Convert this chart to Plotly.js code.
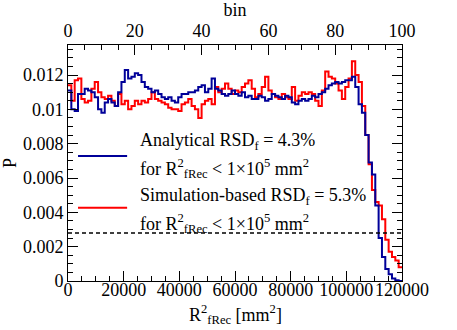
<!DOCTYPE html>
<html>
<head>
<meta charset="utf-8">
<script src="https://cdn.plot.ly/plotly-3.0.1.min.js"></script>
<style>
  html, body { margin: 0; padding: 0; background: #fff; }
  #chart { width: 457px; height: 330px; }
</style>
</head>
<body>
<div id="chart"></div>
<script>
// 100 bins of R^2_fRec, 0 .. 120000 mm^2
const nBins = 100;
const rMax = 120000;
const binTicks = [0, 20, 40, 60, 80, 100];
const cutP = 0.0028;

// bin contents (x 1e-3)
const analytical = [
  11.1, 10.0, 9.9, 10.9, 10.9, 11.2, 11.1, 11.0, 10.7, 10.0,
  9.8, 10.4, 10.6, 10.4, 10.2, 11.0, 11.6, 12.3, 11.8, 11.9,
  12.1, 12.0, 11.6, 11.3, 11.2, 11.0, 11.1, 10.9, 10.7, 10.6,
  10.7, 10.5, 10.4, 10.7, 10.9, 10.9, 11.0, 11.0, 11.1, 11.3,
  11.4, 11.0, 11.2, 11.8, 11.2, 11.1, 10.9, 10.8, 10.9, 11.1,
  10.9, 10.8, 11.0, 10.7, 10.8, 10.6, 10.6, 10.8, 10.7, 10.5,
  10.6, 10.9, 10.8, 10.7, 10.6, 10.8, 10.7, 10.4, 10.3, 10.5,
  10.6, 10.5, 10.6, 10.8, 10.7, 10.9, 11.0, 11.2, 11.4, 11.5,
  11.6, 11.5, 11.6, 11.7, 11.7, 11.9, 11.3, 10.3, 9.8, 8.5,
  6.9, 6.2, 4.4, 2.5, 1.4, 0.7, 0.4, 0.15, 0.05, 0.0
];
const simulation = [
  11.4, 10.5, 11.7, 11.8, 10.6, 10.4, 10.5, 11.2, 11.6, 11.0,
  10.7, 10.6, 10.8, 10.5, 10.2, 10.9, 10.3, 10.5, 10.0, 10.2,
  10.5, 10.3, 10.5, 10.4, 10.6, 11.0, 10.6, 10.5, 10.4, 10.3,
  10.1, 10.0, 10.0, 9.9, 10.3, 10.4, 10.6, 10.2, 10.0, 9.5,
  10.3, 10.5, 10.6, 10.3, 11.3, 11.0, 11.2, 11.5, 11.2, 10.9,
  11.1, 11.0, 11.3, 11.5, 11.7, 11.2, 10.7, 10.9, 11.3, 11.9,
  11.1, 10.9, 10.7, 10.6, 10.9, 10.7, 10.6, 11.3, 10.5, 10.8,
  11.0, 10.9, 11.0, 10.9, 10.5, 10.2, 11.1, 12.2, 11.9, 11.8,
  11.5, 11.1, 10.6, 11.3, 11.8, 12.8, 12.0, 11.6, 10.2, 8.5,
  6.8, 5.3, 4.6, 4.4, 3.6, 2.4, 1.7, 1.4, 1.2, 0.8
];

const FONT = "'Liberation Serif', 'Times New Roman', serif";
const binW = rMax / nBins;

// step outline like a ROOT histogram
function steps(vals) {
  const x = [], y = [];
  vals.forEach((v, i) => { x.push(i * binW); y.push(v * 1e-3); });
  x.push(rMax); y.push(vals[vals.length - 1] * 1e-3);
  return { x, y };
}

const hA = steps(analytical);
const hS = steps(simulation);

const traces = [
  { x: hS.x, y: hS.y, type: 'scatter', mode: 'lines', line: { shape: 'hv', color: '#ff0000', width: 2 }, hoverinfo: 'skip' },
  { x: hA.x, y: hA.y, type: 'scatter', mode: 'lines', line: { shape: 'hv', color: '#000099', width: 2 }, hoverinfo: 'skip' },
  // carries the top "bin" axis
  { x: binTicks, y: binTicks.map(() => null), xaxis: 'x2', type: 'scatter', mode: 'lines', hoverinfo: 'skip' }
];

const legendText = [
  'Analytical RSD<sub>f</sub> = 4.3%',
  'for R<sup>2</sup><sub>fRec</sub> < 1×10<sup>5</sup> mm<sup>2</sup>',
  'Simulation-based RSD<sub>f</sub> = 5.3%',
  'for R<sup>2</sup><sub>fRec</sub> < 1×10<sup>5</sup> mm<sup>2</sup>'
];
const legendY = [0.592, 0.478, 0.356, 0.242];

const tickStyle = { ticks: 'inside', tickcolor: '#000', showline: true, linecolor: '#000', linewidth: 1,
  showgrid: false, zeroline: false, tickangle: 0, tickfont: { family: FONT, size: 18, color: '#000' } };

const annots = legendText.map((t, i) => ({
  text: t, xref: 'paper', yref: 'paper', x: 0.21, y: legendY[i],
  xanchor: 'left', yanchor: 'middle', showarrow: false,
  font: { family: FONT, size: 18, color: '#000' }
}));
// x axis title, placed like the ROOT one
annots.push({
  text: 'R<sup>2</sup><sub>fRec</sub> [mm<sup>2</sup>]', xref: 'paper', yref: 'paper', x: 0.5, y: -0.14,
  xanchor: 'center', yanchor: 'middle', showarrow: false,
  font: { family: FONT, size: 18, color: '#000' }
});

const layout = {
  width: 457, height: 330,
  margin: { l: 68, r: 55, t: 45, b: 49 },
  paper_bgcolor: '#fff', plot_bgcolor: '#fff',
  showlegend: false,
  font: { family: FONT, size: 18, color: '#000' },
  xaxis: Object.assign({}, tickStyle, {
    range: [0, rMax], dtick: 20000, tick0: 0, ticklen: 10,
    exponentformat: 'none', tickformat: 'd',
    minor: { dtick: 5000, ticklen: 5, ticks: 'inside', tickcolor: '#000' },
    ticklabelstandoff: -8
  }),
  xaxis2: Object.assign({}, tickStyle, {
    overlaying: 'x', side: 'top', anchor: 'y',
    range: [0, nBins], dtick: 20, tick0: 0, ticklen: 10,
    minor: { dtick: 5, ticklen: 5, ticks: 'inside', tickcolor: '#000' },
    title: { text: 'bin', font: { family: FONT, size: 18 }, standoff: 2 }
  }),
  yaxis: Object.assign({}, tickStyle, {
    range: [0, 0.01375], dtick: 0.002, tick0: 0, ticklen: 10, mirror: 'ticks',
    minor: { dtick: 0.0005, ticklen: 5, ticks: 'inside', tickcolor: '#000' },
    title: { text: 'P', font: { family: FONT, size: 18 }, standoff: 10 }
  }),
  shapes: [
    { type: 'line', xref: 'paper', yref: 'y', x0: 0, x1: 1, y0: cutP, y1: cutP,
      line: { color: '#000', width: 1.5, dash: '4px,3px' } },
    { type: 'line', xref: 'paper', yref: 'paper', x0: 0.03, x1: 0.177, y0: 0.53, y1: 0.53,
      line: { color: '#000099', width: 2 } },
    { type: 'line', xref: 'paper', yref: 'paper', x0: 0.03, x1: 0.177, y0: 0.31, y1: 0.31,
      line: { color: '#ff0000', width: 2 } }
  ],
  annotations: annots
};

Plotly.newPlot('chart', traces, layout, { staticPlot: true });
</script>
</body>
</html>
